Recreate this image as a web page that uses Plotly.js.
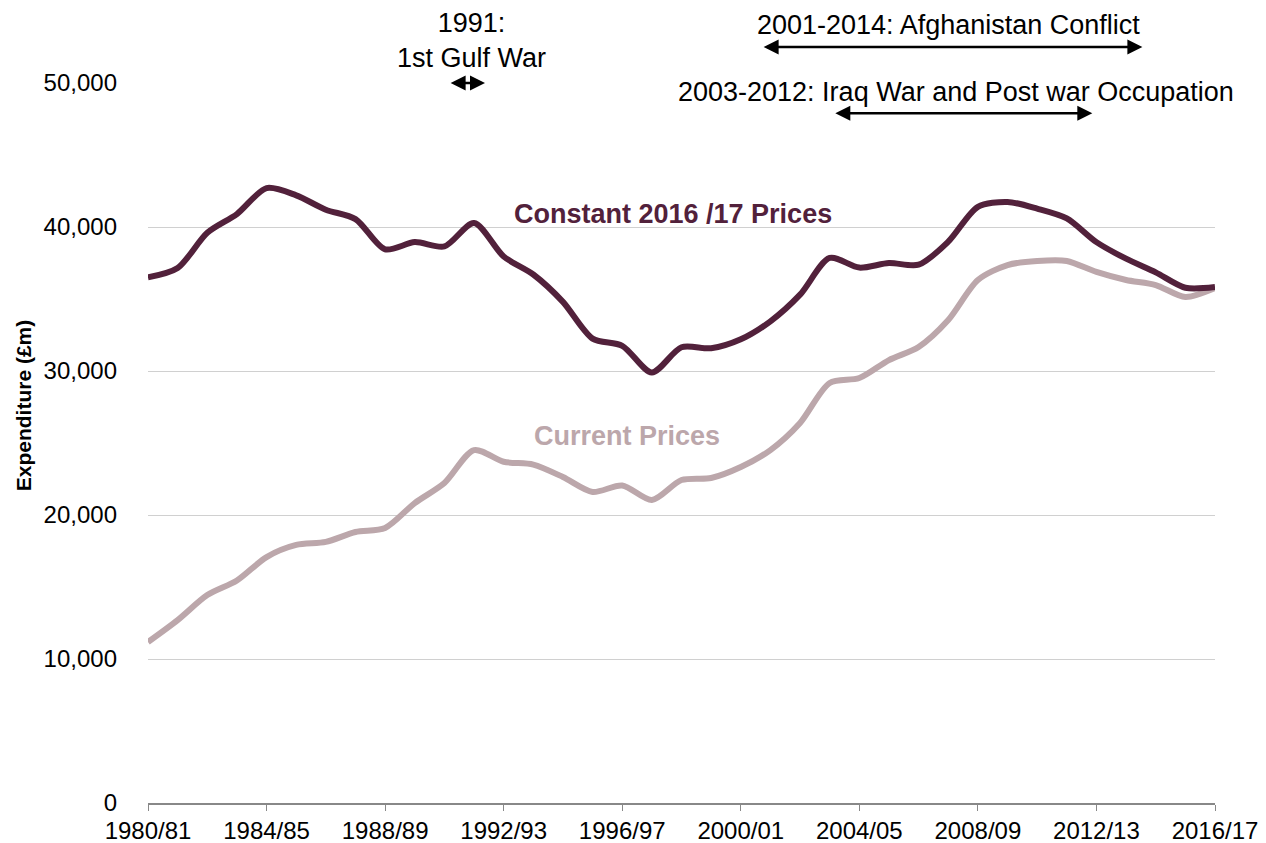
<!DOCTYPE html>
<html>
<head>
<meta charset="utf-8">
<script src="https://cdn.plot.ly/plotly-3.0.1.min.js"></script>
<style>html,body{margin:0;padding:0;background:#fff;}#chart{width:1266px;height:843px;}</style>
</head>
<body>
<div id="chart"></div>
<script>
const years = ["1980/81","1981/82","1982/83","1983/84","1984/85","1985/86","1986/87","1987/88","1988/89","1989/90",
"1990/91","1991/92","1992/93","1993/94","1994/95","1995/96","1996/97","1997/98","1998/99","1999/00",
"2000/01","2001/02","2002/03","2003/04","2004/05","2005/06","2006/07","2007/08","2008/09","2009/10",
"2010/11","2011/12","2012/13","2013/14","2014/15","2015/16","2016/17"];
const constantPrices = [36500,37150,39600,40900,42700,42200,41200,40550,38450,38950,
38650,40280,37950,36700,34800,32250,31750,29900,31650,31580,
32200,33450,35300,37850,37180,37500,37380,38980,41400,41740,
41280,40600,38950,37800,36850,35780,35830];
const currentPrices = [11180,12700,14440,15450,17080,17920,18130,18820,19100,20830,
22220,24510,23700,23500,22640,21600,22050,21040,22430,22570,
23330,24510,26390,29170,29510,30760,31670,33540,36320,37360,
37640,37640,36880,36320,35970,35140,35760];
const tickLabels = ["1980/81","1984/85","1988/89","1992/93","1996/97","2000/01","2004/05","2008/09","2012/13","2016/17"];
const yTicks = [0,10000,20000,30000,40000,50000];

const darkColor = "#52213b";
const lightColor = "#bca7ab";
const FONT = "Liberation Sans, Arial, sans-serif";

const traces = [
  {x: years, y: currentPrices, type: "scatter", mode: "lines",
   line: {color: lightColor, width: 6, shape: "spline", smoothing: 0.8}, hoverinfo: "skip"},
  {x: years, y: constantPrices, type: "scatter", mode: "lines",
   line: {color: darkColor, width: 6, shape: "spline", smoothing: 0.8}, hoverinfo: "skip"}
];

function arrow(x0, x1, yp) {
  return {xref: "x", yref: "paper", x: x1, y: yp, axref: "x", ax: x0, ayref: "pixel", ay: 0,
          text: "", showarrow: true, arrowhead: 2, arrowside: "end+start", arrowsize: 1.2,
          arrowwidth: 2.5, arrowcolor: "#000"};
}
function note(text, x, yp) {
  return {xref: "x", yref: "paper", x: x, y: yp, xanchor: "center", yanchor: "middle",
          text: text, showarrow: false, font: {family: FONT, size: 27, color: "#000"}};
}

const layout = {
  width: 1266, height: 843,
  margin: {l: 148, r: 51, t: 83, b: 40},
  paper_bgcolor: "#ffffff", plot_bgcolor: "#ffffff",
  showlegend: false,
  font: {family: FONT, size: 24, color: "#000"},
  xaxis: {
    type: "category",
    range: [0, 36],
    tickmode: "array", tickvals: tickLabels, ticktext: tickLabels,
    ticks: "outside", ticklen: 6, tickcolor: "#888", tickwidth: 1,
    showline: true, linecolor: "#888", linewidth: 1.5,
    showgrid: false, zeroline: false,
    ticklabelstandoff: 0,
    tickfont: {family: FONT, size: 24, color: "#000"}
  },
  yaxis: {
    range: [0, 50000],
    tickmode: "array", tickvals: yTicks,
    tickformat: ",d",
    showgrid: true, gridcolor: "#d0d0d0", gridwidth: 1,
    zeroline: false, showline: false, ticks: "",
    ticklabelstandoff: 30,
    tickfont: {family: FONT, size: 24, color: "#000"}
  },
  annotations: [
    {xref: "paper", yref: "paper", x: -0.1165, y: 0.552, xanchor: "center", yanchor: "middle",
     text: "<b>Expenditure (£m)</b>", textangle: -90,
     showarrow: false, font: {family: FONT, size: 21, color: "#000"}},
    {xref: "x", yref: "y", x: 17.7, y: 40900, text: "<b>Constant 2016 /17 Prices</b>", showarrow: false,
     font: {family: FONT, size: 27, color: darkColor}},
    {xref: "x", yref: "y", x: 16.16, y: 25500, text: "<b>Current Prices</b>", showarrow: false,
     font: {family: FONT, size: 27, color: lightColor}},
    note("1991:<br>1st Gulf War", 10.93, 1.0597),
    arrow(10.16, 11.37, 1.0),
    note("2001-2014: Afghanistan Conflict", 27.0, 1.0806),
    arrow(20.72, 33.55, 1.05),
    note("2003-2012: Iraq War and Post war Occupation", 27.27, 0.9875),
    arrow(23.14, 31.86, 0.958)
  ]
};

Plotly.newPlot("chart", traces, layout, {displayModeBar: false, staticPlot: true});
</script>
</body>
</html>
